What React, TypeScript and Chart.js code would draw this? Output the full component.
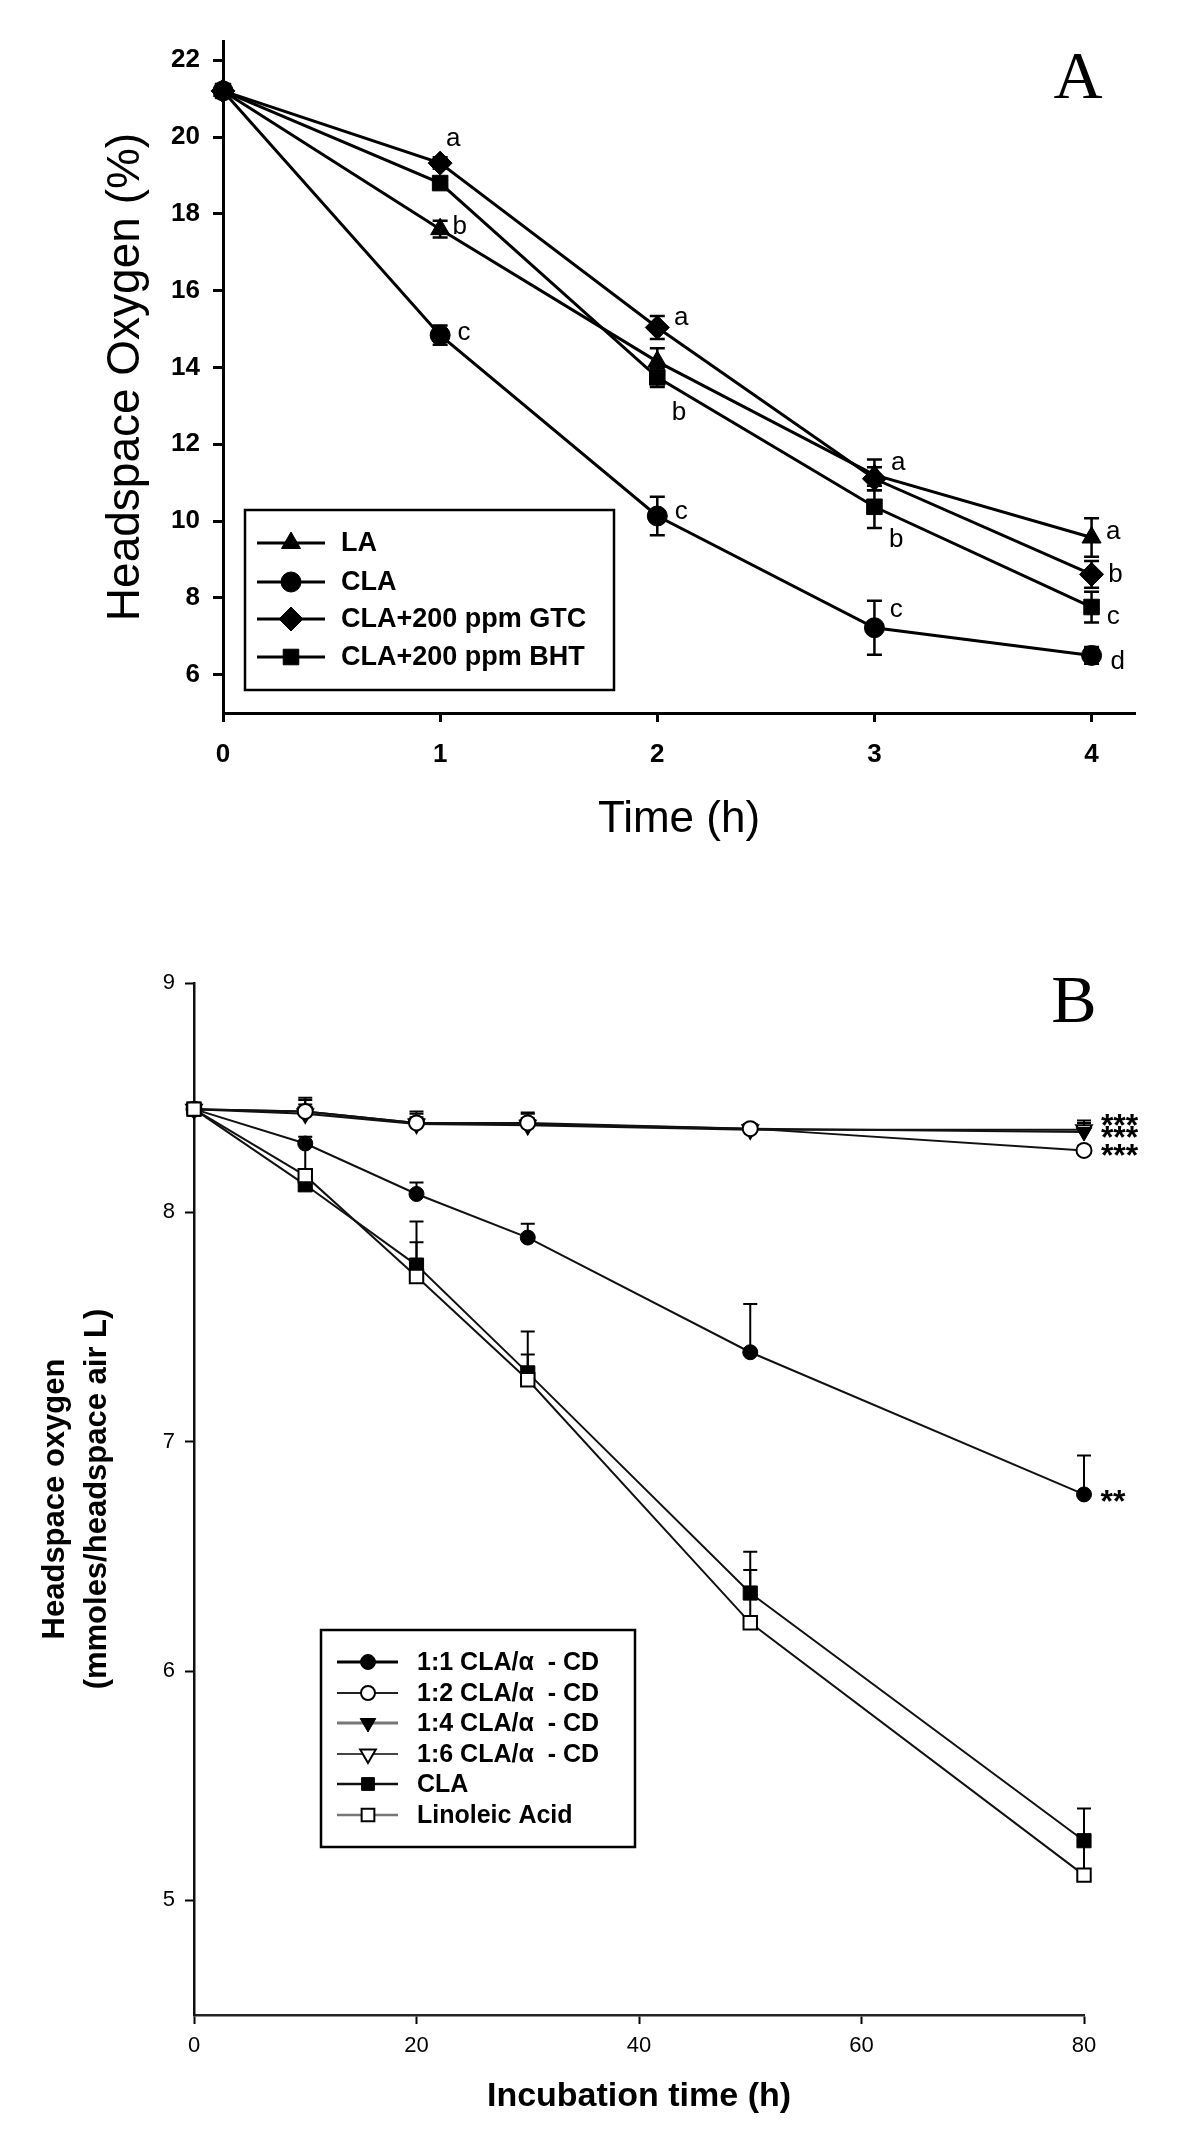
import React, { useEffect, useRef } from 'react';
import { Chart, registerables } from 'chart.js';

Chart.register(...registerables);

const SANS = "'Liberation Sans', Arial, Helvetica, sans-serif";
const SERIF = "'Liberation Serif', 'Times New Roman', serif";

// ---------------- Panel A data ----------------
const timeA = [0, 1, 2, 3, 4];
const namesA = ['LA', 'CLA', 'CLA+200 ppm GTC', 'CLA+200 ppm BHT'];
const laA = [21.2, 17.6, 14.15, 11.2, 9.57];
const claA = [21.2, 14.84, 10.13, 7.22, 6.5];
const gtcA = [21.2, 19.32, 15.04, 11.1, 8.61];
const bhtA = [21.2, 18.8, 13.74, 10.37, 7.76];
const laErrA = [0, 0.22, 0.35, 0.4, 0.5];
const claErrA = [0, 0.25, 0.5, 0.7, 0.22];
const gtcErrA = [0, 0.15, 0.3, 0.3, 0.35];
const bhtErrA = [0, 0.12, 0.25, 0.55, 0.4];
const xTicksA = [0, 1, 2, 3, 4];
const yTicksA = [6, 8, 10, 12, 14, 16, 18, 20, 22];
const letterTextA = ['a', 'b', 'c', 'a', 'b', 'c', 'a', 'b', 'c', 'a', 'b', 'c', 'd'];
const letterXA = [1.06, 1.09, 1.11, 2.11, 2.1, 2.11, 3.11, 3.1, 3.1, 4.1, 4.11, 4.1, 4.12];
const letterYA = [20.0, 17.7, 14.96, 15.35, 12.87, 10.3, 11.57, 9.56, 7.75, 9.78, 8.65, 7.56, 6.39];

// ---------------- Panel B data ----------------
const timeB = [0, 10, 20, 30, 50, 80];
const namesB = ['1:1 CLA/\u03B1  - CD', '1:2 CLA/\u03B1  - CD', '1:4 CLA/\u03B1  - CD', '1:6 CLA/\u03B1  - CD', 'CLA', 'Linoleic Acid'];
const r11B = [8.45, 8.3, 8.08, 7.89, 7.39, 6.77];
const r12B = [8.45, 8.44, 8.39, 8.39, 8.365, 8.27];
const r14B = [8.45, 8.44, 8.39, 8.385, 8.365, 8.35];
const r16B = [8.45, 8.43, 8.385, 8.38, 8.36, 8.36];
const claB = [8.45, 8.12, 7.77, 7.3, 6.34, 5.26];
const laB = [8.45, 8.16, 7.72, 7.27, 6.21, 5.11];
const r11ErrB = [0, 0.03, 0.05, 0.06, 0.21, 0.17];
const r12ErrB = [0, 0.05, 0.04, 0.04, 0.02, 0.02];
const r14ErrB = [0, 0.06, 0.05, 0.05, 0.02, 0.05];
const r16ErrB = [0, 0.04, 0.03, 0.03, 0.02, 0.03];
const claErrB = [0, 0.18, 0.19, 0.18, 0.18, 0.14];
const laErrB = [0, 0.02, 0.15, 0.11, 0.23, 0.16];
const xTicksB = [0, 20, 40, 60, 80];
const yTicksB = [5, 6, 7, 8, 9];
const starTextB = ['***', '***', '***', '**'];
const starXB = [83.2, 83.2, 83.2, 82.6];
const starYB = [8.4, 8.348, 8.273, 6.764];

type Shape = 'circle' | 'triangle' | 'triangleDown' | 'rectRot' | 'rect';

function drawMarker(ctx: CanvasRenderingContext2D, shape: Shape, x: number, y: number, r: number, filled: boolean, lw: number) {
  ctx.save();
  ctx.beginPath();
  const s3 = Math.sqrt(3) / 2;
  if (shape === 'circle') {
    ctx.arc(x, y, r, 0, Math.PI * 2);
  } else if (shape === 'triangle') {
    ctx.moveTo(x, y - r);
    ctx.lineTo(x + r * s3, y + r / 2);
    ctx.lineTo(x - r * s3, y + r / 2);
  } else if (shape === 'triangleDown') {
    ctx.moveTo(x, y + r);
    ctx.lineTo(x + r * s3, y - r / 2);
    ctx.lineTo(x - r * s3, y - r / 2);
  } else if (shape === 'rectRot') {
    ctx.moveTo(x, y - r);
    ctx.lineTo(x + r, y);
    ctx.lineTo(x, y + r);
    ctx.lineTo(x - r, y);
  } else {
    const h = r * Math.SQRT1_2;
    ctx.rect(x - h, y - h, 2 * h, 2 * h);
  }
  ctx.closePath();
  ctx.fillStyle = filled ? '#000' : '#fff';
  ctx.fill();
  ctx.lineWidth = lw;
  ctx.strokeStyle = '#000';
  ctx.stroke();
  ctx.restore();
}

function errorBarPlugin(errs: number[][], symmetric: boolean, capHalf: number, lw: number) {
  return {
    id: 'errorBars',
    beforeDatasetsDraw(chart: any) {
      const { ctx } = chart;
      const xs = chart.scales.x;
      const ys = chart.scales.y;
      ctx.save();
      ctx.lineWidth = lw;
      ctx.strokeStyle = '#000';
      chart.data.datasets.forEach((ds: any, i: number) => {
        const e = errs[i];
        if (!e) return;
        ds.data.forEach((p: any, j: number) => {
          if (!e[j]) return;
          const px = xs.getPixelForValue(p.x);
          const top = ys.getPixelForValue(p.y + e[j]);
          const bot = ys.getPixelForValue(symmetric ? p.y - e[j] : p.y);
          ctx.beginPath();
          ctx.moveTo(px, top);
          ctx.lineTo(px, bot);
          ctx.moveTo(px - capHalf, top);
          ctx.lineTo(px + capHalf, top);
          if (symmetric) {
            ctx.moveTo(px - capHalf, bot);
            ctx.lineTo(px + capHalf, bot);
          }
          ctx.stroke();
        });
      });
      ctx.restore();
    },
  };
}

function series(xs: number[], ys: number[]) {
  return xs.map((x, i) => ({ x, y: ys[i] }));
}

function buildA(): any {
  const shapes: Shape[] = ['triangle', 'circle', 'rectRot', 'rect'];
  const radii = [11, 10, 12, 11];
  const values = [laA, claA, gtcA, bhtA];
  const errs = [laErrA, claErrA, gtcErrA, bhtErrA];
  const datasets = values.map((v, i) => ({
    label: namesA[i],
    data: series(timeA, v),
    borderColor: '#000',
    borderWidth: 3,
    pointStyle: shapes[i],
    pointRadius: radii[i],
    pointBackgroundColor: '#000',
    pointBorderColor: '#000',
    pointBorderWidth: 1,
    tension: 0,
    fill: false,
    clip: false,
  }));

  const annot = {
    id: 'annotA',
    afterDatasetsDraw(chart: any) {
      const { ctx } = chart;
      const xs = chart.scales.x;
      const ys = chart.scales.y;
      ctx.save();
      ctx.fillStyle = '#000';
      ctx.font = `26px ${SANS}`;
      ctx.textAlign = 'center';
      ctx.textBaseline = 'middle';
      letterTextA.forEach((t, i) => {
        ctx.fillText(t, xs.getPixelForValue(letterXA[i]), ys.getPixelForValue(letterYA[i]) + 2);
      });
      // panel label
      ctx.font = `68px ${SERIF}`;
      ctx.fillText('A', 1078, 80);
      // legend
      ctx.lineWidth = 2.5;
      ctx.strokeStyle = '#000';
      ctx.strokeRect(245, 510, 369, 180);
      const rowsY = [543, 582, 619, 657];
      ctx.font = `bold 27px ${SANS}`;
      ctx.textAlign = 'left';
      namesA.forEach((n, i) => {
        const y = rowsY[i];
        ctx.lineWidth = 3;
        ctx.beginPath();
        ctx.moveTo(257, y);
        ctx.lineTo(325, y);
        ctx.stroke();
        drawMarker(ctx, shapes[i], 291, y, radii[i], true, 1);
        ctx.fillStyle = '#000';
        ctx.fillText(n, 341, y + 1);
      });
      ctx.restore();
    },
  };

  return {
    type: 'line',
    data: { datasets },
    plugins: [errorBarPlugin(errs, true, 7.5, 2.5), annot],
    options: {
      responsive: false,
      animation: false,
      events: [],
      layout: { padding: { left: 0, top: 41, right: 65, bottom: 0 } },
      plugins: { legend: { display: false }, tooltip: { enabled: false } },
      scales: {
        x: {
          type: 'linear',
          min: 0,
          max: 4.2,
          afterBuildTicks: (s: any) => {
            s.ticks = xTicksA.map((v) => ({ value: v }));
          },
          afterFit: (s: any) => {
            s.height = 880 - 713;
          },
          grid: { display: true, drawOnChartArea: false, drawTicks: true, tickLength: 9, tickWidth: 3, color: '#000' },
          border: { display: true, color: '#000', width: 3 },
          ticks: { color: '#000', font: { family: SANS, size: 26, weight: 'bold' }, padding: 17, maxRotation: 0, autoSkip: false },
          title: { display: true, text: 'Time (h)', color: '#000', font: { family: SANS, size: 44, lineHeight: 1 }, padding: { top: 0, bottom: 38 } },
        },
        y: {
          type: 'linear',
          min: 5,
          max: 22.5,
          afterBuildTicks: (s: any) => {
            s.ticks = yTicksA.map((v) => ({ value: v }));
          },
          afterFit: (s: any) => {
            s.width = 223;
          },
          grid: { display: true, drawOnChartArea: false, drawTicks: true, tickLength: 10, tickWidth: 3, color: '#000' },
          border: { display: true, color: '#000', width: 3 },
          ticks: { color: '#000', font: { family: SANS, size: 26, weight: 'bold' }, padding: 13, autoSkip: false },
          title: { display: true, text: 'Headspace Oxygen (%)', color: '#000', font: { family: SANS, size: 46, lineHeight: 1 }, padding: { top: 103, bottom: 0 } },
        },
      },
    },
  };
}

function buildB(): any {
  const H = 1249;
  const shapes: Shape[] = ['circle', 'circle', 'triangleDown', 'triangleDown', 'rect', 'rect'];
  const styles = ['circle', 'circle', 'triangle', 'triangle', 'rect', 'rect'];
  const filled = [true, false, true, false, true, false];
  const radii = [7.5, 7.5, 9, 9, 10, 9.5];
  const values = [r11B, r12B, r14B, r16B, claB, laB];
  const errs = [r11ErrB, r12ErrB, r14ErrB, r16ErrB, claErrB, laErrB];
  const orders = [1, 2, 3, 4, 5, 0];
  const datasets = values.map((v, i) => ({
    label: namesB[i],
    data: series(timeB, v),
    borderColor: '#111',
    borderWidth: 2,
    pointStyle: styles[i],
    pointRotation: shapes[i] === 'triangleDown' ? 180 : 0,
    pointRadius: radii[i],
    pointBackgroundColor: filled[i] ? '#000' : '#fff',
    pointBorderColor: '#000',
    pointBorderWidth: filled[i] ? 1 : 2,
    tension: 0,
    fill: false,
    clip: false,
    order: orders[i],
  }));

  const legendLineColors = ['#000', '#222', '#777', '#444', '#111', '#777'];
  const legendLineWidths = [3, 1.8, 3, 1.8, 2.5, 2.5];
  const legendRadii = [7.5, 7, 9, 9, 9, 9];

  const annot = {
    id: 'annotB',
    afterDatasetsDraw(chart: any) {
      const { ctx } = chart;
      const xs = chart.scales.x;
      const ys = chart.scales.y;
      ctx.save();
      ctx.fillStyle = '#000';
      ctx.font = `bold 32px ${SANS}`;
      ctx.textAlign = 'center';
      ctx.textBaseline = 'middle';
      starTextB.forEach((t, i) => {
        ctx.fillText(t, xs.getPixelForValue(starXB[i]), ys.getPixelForValue(starYB[i]) + 7);
      });
      ctx.font = `68px ${SERIF}`;
      ctx.fillText('B', 1074, 124);
      // legend
      ctx.lineWidth = 2.5;
      ctx.strokeStyle = '#000';
      ctx.strokeRect(321, 750, 314, 217);
      const rowsY = [782, 813, 843, 874, 904, 935];
      ctx.font = `bold 25px ${SANS}`;
      ctx.textAlign = 'left';
      namesB.forEach((n, i) => {
        const y = rowsY[i];
        ctx.save();
        ctx.lineWidth = legendLineWidths[i];
        ctx.strokeStyle = legendLineColors[i];
        ctx.beginPath();
        ctx.moveTo(337, y);
        ctx.lineTo(398, y);
        ctx.stroke();
        ctx.restore();
        drawMarker(ctx, shapes[i], 368, y, legendRadii[i], filled[i], filled[i] ? 1 : 2);
        ctx.fillStyle = '#000';
        ctx.fillText(n, 417, y + 1);
      });
      ctx.restore();
    },
  };

  return {
    type: 'line',
    data: { datasets },
    plugins: [errorBarPlugin(errs, false, 7, 2), annot],
    options: {
      responsive: false,
      animation: false,
      events: [],
      layout: { padding: { left: 0, top: 103, right: 116, bottom: 0 } },
      plugins: { legend: { display: false }, tooltip: { enabled: false } },
      scales: {
        x: {
          type: 'linear',
          min: 0,
          max: 80,
          afterBuildTicks: (s: any) => {
            s.ticks = xTicksB.map((v) => ({ value: v }));
          },
          afterFit: (s: any) => {
            s.height = H - 1135;
          },
          grid: { display: true, drawOnChartArea: false, drawTicks: true, tickLength: 9, tickWidth: 2, color: '#000' },
          border: { display: true, color: '#222', width: 2.5 },
          ticks: { color: '#000', font: { family: SANS, size: 22 }, padding: 9, maxRotation: 0, autoSkip: false },
          title: { display: true, text: 'Incubation time (h)', color: '#000', font: { family: SANS, size: 34, weight: 'bold', lineHeight: 1 }, padding: { top: 0, bottom: 15 } },
        },
        y: {
          type: 'linear',
          min: 4.5,
          max: 9,
          afterBuildTicks: (s: any) => {
            s.ticks = yTicksB.map((v) => ({ value: v }));
          },
          afterFit: (s: any) => {
            s.width = 194;
          },
          grid: { display: true, drawOnChartArea: false, drawTicks: true, tickLength: 9, tickWidth: 2, color: '#000' },
          border: { display: true, color: '#111', width: 2.5 },
          ticks: { color: '#000', font: { family: SANS, size: 22 }, padding: 10, autoSkip: false },
          title: {
            display: true,
            text: ['Headspace oxygen', '(mmoles/headspace air L)'],
            color: '#000',
            font: { family: SANS, size: 31, weight: 'bold', lineHeight: '42px' },
            padding: { top: 34, bottom: 0 },
          },
        },
      },
    },
  };
}

export default function App() {
  const refA = useRef<HTMLCanvasElement>(null);
  const refB = useRef<HTMLCanvasElement>(null);
  useEffect(() => {
    const a = new Chart(refA.current as HTMLCanvasElement, buildA());
    const b = new Chart(refB.current as HTMLCanvasElement, buildB());
    return () => {
      a.destroy();
      b.destroy();
    };
  }, []);
  return (
    <div style={{ position: 'absolute', left: 0, top: 0, width: 1200, height: 2129, background: '#fff', overflow: 'hidden' }}>
      <canvas ref={refA} width={1200} height={880} style={{ position: 'absolute', left: 0, top: 0, width: 1200, height: 880 }} />
      <canvas ref={refB} width={1200} height={1249} style={{ position: 'absolute', left: 0, top: 880, width: 1200, height: 1249 }} />
    </div>
  );
}
